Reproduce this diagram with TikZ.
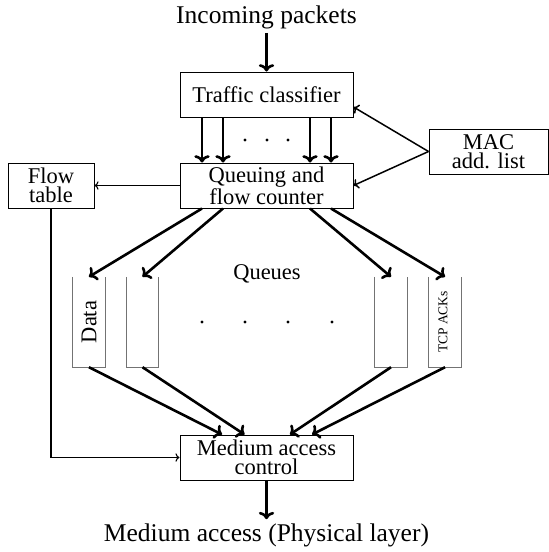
\documentclass[tikz,border=0pt]{standalone}
\usepackage{fontspec}
\setmainfont{Liberation Serif}
\usetikzlibrary{positioning}
\usetikzlibrary{arrows.meta}
\tikzset{
    mybox/.style = {rectangle, line width=1pt, draw=black, align=center, inner sep=0pt, minimum width=173pt, minimum height=45pt, font=\fontsize{22.5}{19}\selectfont},
    myboxs/.style = {mybox, minimum width=86pt},
    myboxa/.style = {mybox, minimum width=119pt},
    myqueue/.style = {rectangle, draw=none, minimum width=32pt, minimum height=90pt, inner sep=0pt},
    mytext/.style = {font=\fontsize{25.5}{28}\selectfont, inner sep=4pt},
    edgek/.style = {->, line width=2.6pt, black},
    edgem/.style = {->, line width=1.5pt, black},
    edget/.style = {->, line width=1.1pt, black},
    edgeq/.style = {-, line width=0.9pt, black!55},
}

\begin{document}
\begin{tikzpicture}[x=1pt,y=-1pt]
\useasboundingbox (0,0) rectangle (549,552);
\node[mytext] at (266.5,17) (inp) {Incoming packets};
\node[mybox] at (266.5,94.5) (tc) {Traffic classifier};
\node[mybox] at (266.5,185.5) (qfc) {Queuing and\\flow counter};
\node[myboxa] at (488.5,151.5) (addr) {MAC\\add. list};
\node[myboxs] at (51,185.5) (ft) {Flow\\table};
\node[mybox] at (266.5,457.5) (mac) {Medium access\\control};
\node[mytext] at (266.5,535) (phy) {Medium access (Physical layer)};
%
\node[myqueue] at (89,322) (q1) {};
\node[myqueue] at (142.5,322) (q2) {};
\node[myqueue] at (391,322) (q3) {};
\node[myqueue] at (445,322) (q4) {};
\node[rotate=90, font=\fontsize{22.5}{24}\selectfont] at (q1.center) (qd) {Data};
\node[rotate=90, font=\fontsize{13.5}{15}\selectfont] at ([xshift=-2pt]q4.center) (qa) {TCP ACKs};
\node[font=\fontsize{22.5}{24}\selectfont] at (267,274) (ql) {Queues};
%
\foreach \q in {q1,q2,q3,q4}
    \draw[edgeq] (\q.north west) -- (\q.south west) -- (\q.south east) -- (\q.north east);
%
\draw[edgek] (inp) -- (tc);
\draw[edgek] (mac) -- (phy);
\foreach \dx in {-64.5,-43.5,43.5,64.5}
    \draw[edgek] ([xshift=\dx pt]tc.south) -- ([xshift=\dx pt]qfc.north);
\foreach \x in {245,267,288}
    \fill (\x,140) circle (1.6pt);
%
\draw[edgek] ([xshift=-64.5pt]qfc.south) -- (q1.north);
\draw[edgek] ([xshift=-43.5pt]qfc.south) -- (q2.north);
\draw[edgek] ([xshift=43.5pt]qfc.south) -- (q3.north);
\draw[edgek] ([xshift=64.5pt]qfc.south) -- (q4.north);
\foreach \x in {202,245,288,332}
    \fill (\x,322) circle (1.6pt);
%
\draw[edgek] (q1.south) -- ([xshift=-44.5pt]mac.north);
\draw[edgek] (q2.south) -- ([xshift=-22pt]mac.north);
\draw[edgek] (q3.south) -- ([xshift=23.5pt]mac.north);
\draw[edgek] (q4.south) -- ([xshift=45.5pt]mac.north);
%
\draw[edgem] (addr.west) -- ([yshift=-12.5pt]tc.east);
\draw[edgem] (addr.west) -- (qfc.east);
\draw[edget] (qfc.west) -- (ft.east);
\draw[edget] (ft.south) |- (mac.west);

\end{tikzpicture}
\end{document}
